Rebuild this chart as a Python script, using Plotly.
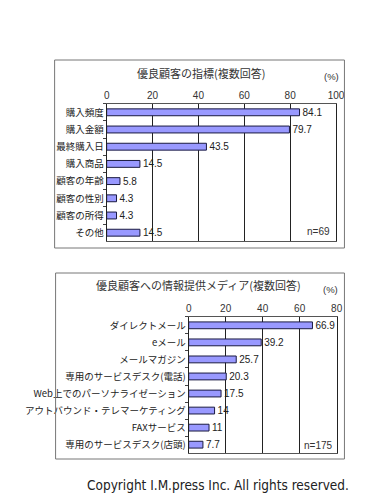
import plotly.graph_objects as go

W, H = 391, 500

# Top chart data
cat1 = ["購入頻度", "購入金額", "最終購入日", "購入商品", "顧客の年齢", "顧客の性別", "顧客の所得", "その他"]
val1 = [84.1, 79.7, 43.5, 14.5, 5.8, 4.3, 4.3, 14.5]
lab1 = ["84.1", "79.7", "43.5", "14.5", "5.8", "4.3", "4.3", "14.5"]
ticks1 = [0, 20, 40, 60, 80, 100]

# Bottom chart data
cat2 = ["ダイレクトメール", "eメール", "メールマガジン", "専用のサービスデスク(電話)",
        "Web上でのパーソナライゼーション", "アウトバウンド・テレマーケティング",
        "FAXサービス", "専用のサービスデスク(店頭)"]
val2 = [66.9, 39.2, 25.7, 20.3, 17.5, 14, 11, 7.7]
lab2 = ["66.9", "39.2", "25.7", "20.3", "17.5", "14", "11", "7.7"]
ticks2 = [0, 20, 40, 60, 80]

title1 = "優良顧客の指標(複数回答)"
title2 = "優良顧客への情報提供メディア(複数回答)"
n1 = "n=69"
n2 = "n=175"
copyright_text = "Copyright I.M.press Inc. All rights reserved."

JP = "Noto Sans CJK JP"
LAT = "Liberation Sans, Arial"
BAR = "#9999FF"
EDGE = "#1a1a40"

def px(x):
    return x / W

def py(y):
    return 1 - y / H

fig = go.Figure()
fig.add_trace(go.Bar(
    y=cat1, x=val1, orientation="h", text=lab1, textposition="outside",
    constraintext="none",
    textfont=dict(family=LAT, size=10, color="#222"), cliponaxis=False,
    marker=dict(color=BAR, line=dict(color=EDGE, width=1)),
    xaxis="x", yaxis="y", showlegend=False, hoverinfo="skip"))
fig.add_trace(go.Bar(
    y=cat2, x=val2, orientation="h", text=lab2, textposition="outside",
    constraintext="none",
    textfont=dict(family=LAT, size=10, color="#222"), cliponaxis=False,
    marker=dict(color=BAR, line=dict(color=EDGE, width=1)),
    xaxis="x2", yaxis="y2", showlegend=False, hoverinfo="skip"))

xcommon = dict(side="top", showgrid=True, gridcolor="#222", gridwidth=1,
               showline=True, linecolor="#555", mirror=True, zeroline=False,
               ticks="", tickfont=dict(family=LAT, size=10, color="#333"),
               fixedrange=True)
ycommon = dict(autorange="reversed", showline=True, linecolor="#222", mirror=True,
               ticks="outside", tickson="boundaries", ticklen=3, tickcolor="#444",
               tickfont=dict(family=JP, size=9.5, color="#222"), fixedrange=True)

fig.update_layout(
    width=W, height=H, margin=dict(l=0, r=0, t=0, b=0),
    paper_bgcolor="white", plot_bgcolor="white",
    bargap=0.6,
    xaxis=dict(domain=[px(98.7), px(335.3)], range=[0, 100], tickvals=ticks1,
               anchor="y", **xcommon),
    yaxis=dict(domain=[py(233.3), py(95.7)], anchor="x", **ycommon),
    xaxis2=dict(domain=[px(183.3), px(336)], range=[0, 80], tickvals=ticks2,
                anchor="y2", **xcommon),
    yaxis2=dict(domain=[py(445.2), py(308.8)], anchor="x2", **ycommon),
)

shapes = [
    dict(type="rect", xref="paper", yref="paper", x0=px(45), x1=px(344), y0=py(240), y1=py(52),
         line=dict(color="#777", width=1)),
    dict(type="rect", xref="paper", yref="paper", x0=px(46), x1=px(344), y0=py(451), y1=py(265),
         line=dict(color="#777", width=1)),
]
fig.update_layout(shapes=shapes)

ann = [
    dict(text=title1, x=px(196), y=py(65), font=dict(family=JP, size=11, color="#333")),
    dict(text="(%)", x=px(331), y=py(68), font=dict(family=LAT, size=9.5, color="#333")),
    dict(text=n1, x=px(317), y=py(224), font=dict(family=LAT, size=10, color="#333")),
    dict(text=title2, x=px(193), y=py(277), font=dict(family=JP, size=11, color="#333")),
    dict(text="(%)", x=px(330), y=py(281), font=dict(family=LAT, size=9.5, color="#333")),
    dict(text=n2, x=px(317), y=py(437), font=dict(family=LAT, size=10, color="#333")),
    dict(text=copyright_text, x=px(214), y=py(477),
         font=dict(family="DejaVu Sans Condensed, Liberation Sans Narrow, Liberation Sans", size=13.5, color="#222")),
]
for a in ann:
    a.update(xref="paper", yref="paper", showarrow=False, xanchor="center", yanchor="middle")
fig.update_layout(annotations=ann)

fig.write_html("out.html")
